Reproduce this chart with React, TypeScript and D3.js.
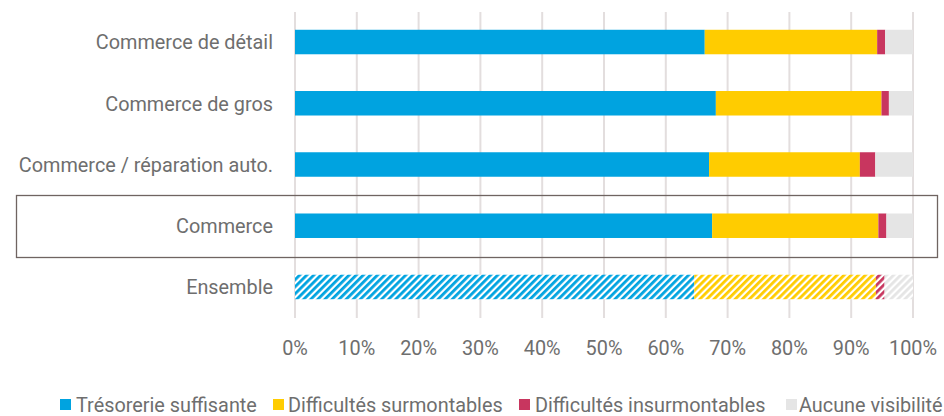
import React from "react";
import * as d3 from "d3";

const categories = ["Commerce de détail", "Commerce de gros", "Commerce / réparation auto.", "Commerce", "Ensemble"];
const tresorerie = [66.3, 68.1, 67.0, 67.5, 64.6];
const surmontables = [27.9, 26.8, 24.4, 26.9, 29.4];
const insurmontables = [1.3, 1.2, 2.5, 1.3, 1.4];
const aucune = [4.5, 3.9, 6.1, 4.3, 4.6];
const seriesNames = ["Trésorerie suffisante", "Difficultés surmontables", "Difficultés insurmontables", "Aucune visibilité"];
const colors = ["#00a3e0", "#ffcc00", "#c8365f", "#e5e5e5"];
const tickValues = [0, 10, 20, 30, 40, 50, 60, 70, 80, 90, 100];

const W = 944, H = 416;
const FONT = "Roboto, 'DejaVu Sans Condensed', sans-serif";
const TEXT = "#6e6e6e";
const SX = 0.945;

function T({ x, y, anchor, children }: { x: number; y: number; anchor: string; children: any }) {
  return (
    <text
      transform={`translate(${x},${y}) scale(${SX},1)`}
      dy="0.35em"
      textAnchor={anchor}
      fontFamily={FONT}
      fontSize={21}
      fill={TEXT}
    >
      {children}
    </text>
  );
}

export default function App() {
  const x = d3.scaleLinear().domain([0, 100]).range([295, 913]);
  const y = d3.scaleBand<string>().domain(categories).range([11.4, 317.6]).paddingInner(0.6).paddingOuter(0.3);
  const series = [tresorerie, surmontables, insurmontables, aucune];
  const data = categories.map((c, i) => {
    const o: any = { cat: c };
    seriesNames.forEach((s, k) => (o[s] = series[k][i]));
    return o;
  });
  const stacked = d3.stack().keys(seriesNames)(data);
  const legendX = [60, 273, 519, 786];
  const legendTextX = [76, 288, 535, 799];

  return (
    <svg width={W} height={H} style={{ position: "absolute", left: 0, top: 0, display: "block" }}>
      <defs>
        {colors.map((c, k) => (
          <pattern key={k} id={`hatch${k}`} patternUnits="userSpaceOnUse" width={5} height={5} patternTransform="rotate(45)">
            <rect width={5} height={5} fill="#ffffff" />
            <rect width={2.8} height={5} fill={c} />
          </pattern>
        ))}
      </defs>
      <rect width={W} height={H} fill="#ffffff" />
      {tickValues.map((t) => (
        <line key={t} x1={x(t)} x2={x(t)} y1={12} y2={318} stroke="#e3dede" strokeWidth={2} />
      ))}
      {stacked.map((layer, k) =>
        layer.map((d, i) => (
          <rect
            key={`${k}-${i}`}
            x={x(d[0])}
            y={y(categories[i])}
            width={x(d[1]) - x(d[0])}
            height={y.bandwidth()}
            fill={categories[i] === "Ensemble" ? `url(#hatch${k})` : colors[k]}
          />
        ))
      )}
      <rect x={16.5} y={195.5} width={921} height={62} fill="none" stroke="#6f6461" strokeWidth={1.3} />
      {categories.map((c) => (
        <T key={c} x={273} y={(y(c) as number) + y.bandwidth() / 2} anchor="end">
          {c}
        </T>
      ))}
      {tickValues.map((t) => (
        <T key={t} x={x(t)} y={347.5} anchor="middle">
          {t}%
        </T>
      ))}
      {seriesNames.map((s, k) => (
        <g key={s}>
          <rect x={legendX[k]} y={399} width={11} height={11} fill={colors[k]} />
          <T x={legendTextX[k]} y={405} anchor="start">
            {s}
          </T>
        </g>
      ))}
    </svg>
  );
}
